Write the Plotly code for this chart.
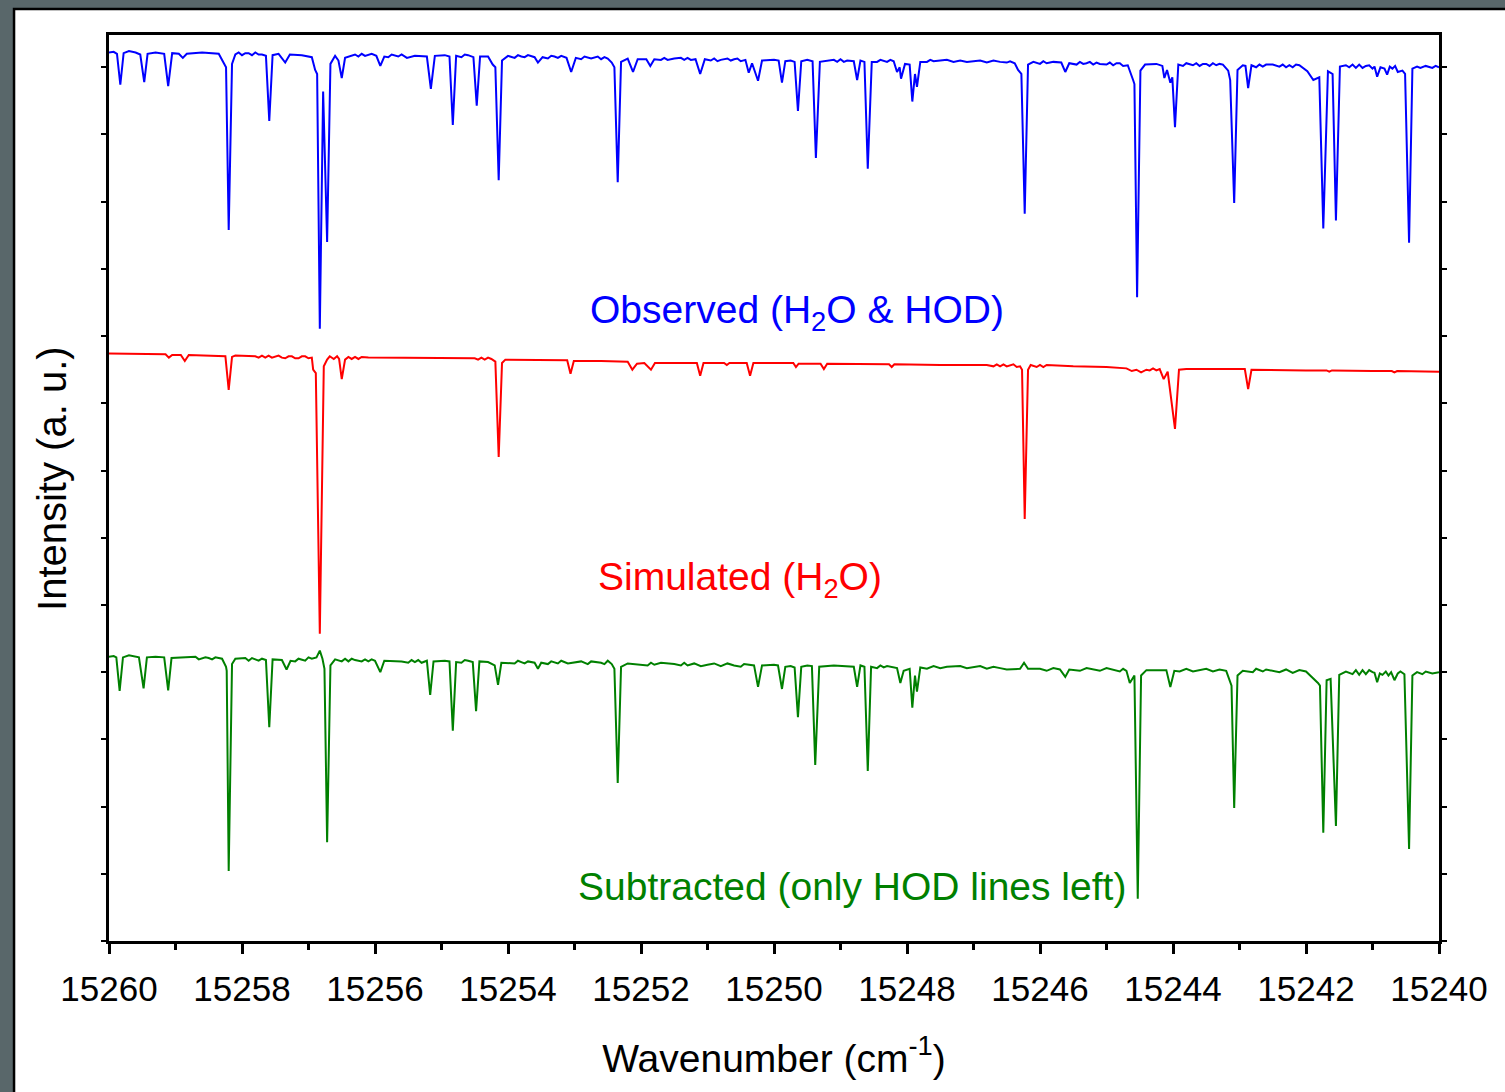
import plotly.graph_objects as go

# Observed spectrum (H2O + HOD), wavenumber in cm^-1 and intensity in a.u.
obs_wn = [
    15260.00, 15259.93, 15259.88, 15259.83, 15259.78, 15259.70, 15259.60, 15259.53, 15259.47, 15259.42,
    15259.30, 15259.17, 15259.11, 15259.05, 15258.95, 15258.89, 15258.83, 15258.60, 15258.35, 15258.27,
    15258.24, 15258.20, 15258.15, 15258.10, 15257.90, 15257.70, 15257.64, 15257.59, 15257.54, 15257.45,
    15257.35, 15257.28, 15257.10, 15256.95, 15256.90, 15256.87, 15256.83, 15256.78, 15256.72, 15256.67,
    15256.60, 15256.55, 15256.50, 15256.45, 15256.30, 15256.10, 15255.98, 15255.92, 15255.86, 15255.70,
    15255.52, 15255.40, 15255.22, 15255.16, 15255.10, 15254.95, 15254.88, 15254.83, 15254.78, 15254.60,
    15254.52, 15254.47, 15254.42, 15254.30, 15254.23, 15254.19, 15254.14, 15254.09, 15254.00, 15253.80,
    15253.60, 15253.55, 15253.48, 15253.30, 15253.12, 15253.05, 15252.98, 15252.70, 15252.50, 15252.44,
    15252.40, 15252.35, 15252.30, 15252.20, 15252.12, 15252.05, 15251.92, 15251.86, 15251.80, 15251.50,
    15251.18, 15251.11, 15251.04, 15250.80, 15250.60, 15250.43, 15250.38, 15250.33, 15250.24, 15250.18,
    15250.00, 15249.93, 15249.88, 15249.83, 15249.75, 15249.69, 15249.64, 15249.59, 15249.50, 15249.42,
    15249.37, 15249.31, 15249.10, 15248.90, 15248.80, 15248.75, 15248.70, 15248.64, 15248.59, 15248.53,
    15248.35, 15248.20, 15248.15, 15248.11, 15248.09, 15248.03, 15247.96, 15247.92, 15247.88, 15247.85,
    15247.80, 15247.50, 15247.00, 15246.60, 15246.38, 15246.33, 15246.28, 15246.23, 15246.18, 15246.10,
    15245.85, 15245.68, 15245.62, 15245.56, 15245.30, 15245.10, 15244.85, 15244.68, 15244.60, 15244.58,
    15244.54, 15244.49, 15244.42, 15244.25, 15244.16, 15244.13, 15244.09, 15244.04, 15244.01, 15243.97,
    15243.92, 15243.75, 15243.50, 15243.25, 15243.17, 15243.14, 15243.08, 15243.03, 15242.95, 15242.91,
    15242.87, 15242.82, 15242.50, 15242.10, 15241.98, 15241.89, 15241.80, 15241.74, 15241.67, 15241.60,
    15241.55, 15241.49, 15241.40, 15241.10, 15240.97, 15240.93, 15240.88, 15240.82, 15240.78, 15240.74,
    15240.66, 15240.62, 15240.55, 15240.51, 15240.45, 15240.40, 15240.33, 15240.00,
]
obs_int = [
    13.22, 13.23, 13.20, 12.74, 13.21, 13.24, 13.22, 13.19, 12.78, 13.20,
    13.22, 13.20, 12.72, 13.21, 13.20, 13.14, 13.20, 13.22, 13.20, 13.07,
    13.00, 10.58, 13.05, 13.19, 13.21, 13.19, 13.17, 12.20, 13.18, 13.20,
    13.07, 13.19, 13.18, 13.15, 12.96, 12.90, 9.11, 12.64, 10.40, 13.05,
    13.17, 13.10, 12.84, 13.14, 13.19, 13.18, 13.17, 13.02, 13.16, 13.18,
    13.14, 13.17, 13.16, 12.68, 13.17, 13.18, 13.16, 12.14, 13.17, 13.18,
    13.15, 12.43, 13.16, 13.16, 13.04, 13.00, 11.32, 13.10, 13.17, 13.16,
    13.15, 13.07, 13.15, 13.16, 13.14, 12.93, 13.14, 13.15, 13.13, 13.07,
    13.00, 11.29, 13.08, 13.13, 12.93, 13.12, 13.12, 13.02, 13.12, 13.13,
    13.12, 12.90, 13.12, 13.11, 13.12, 13.11, 12.92, 13.06, 12.80, 13.10,
    13.11, 13.10, 12.77, 13.09, 13.10, 13.08, 12.35, 13.09, 13.11, 13.09,
    11.65, 13.08, 13.11, 13.10, 13.09, 12.81, 13.10, 13.08, 11.49, 13.08,
    13.10, 13.09, 12.93, 13.00, 12.83, 13.05, 13.04, 12.49, 12.90, 12.71,
    13.08, 13.10, 13.09, 13.08, 13.06, 12.96, 12.90, 10.82, 13.04, 13.08,
    13.07, 13.07, 12.93, 13.06, 13.06, 13.05, 13.06, 13.03, 12.81, 12.75,
    9.58, 12.95, 13.04, 13.05, 13.02, 12.84, 12.96, 12.77, 12.85, 12.11,
    13.04, 13.05, 13.05, 13.04, 12.95, 12.81, 10.98, 12.96, 13.03, 13.02,
    12.69, 13.03, 13.04, 13.03, 12.94, 12.81, 12.85, 10.60, 12.94, 12.90,
    10.72, 13.01, 13.03, 13.02, 13.01, 12.86, 13.00, 12.98, 12.89, 13.01,
    13.02, 12.93, 12.95, 12.90, 10.39, 12.98, 13.01, 13.00,
]
# Baseline noise on the observed trace
obs_noise_wn = [
    15258.05, 15258.00, 15257.95, 15257.85, 15257.80, 15257.75,
    15256.25, 15256.20, 15256.15, 15256.05, 15255.80, 15255.75, 15255.65, 15255.60,
    15254.70, 15254.65,
    15253.90, 15253.85, 15253.75, 15253.70, 15253.40, 15253.35, 15253.25, 15253.20,
    15252.90, 15252.85, 15252.75, 15252.65, 15252.60, 15252.55,
    15251.70, 15251.65, 15251.60, 15251.40, 15251.35, 15251.30, 15251.25,
    15250.95, 15250.90, 15250.85, 15250.70, 15250.65, 15250.55, 15250.50,
    15249.05, 15249.00, 15248.95, 15248.45, 15248.40, 15248.30, 15248.25,
    15247.70, 15247.65, 15247.60, 15247.40, 15247.30, 15247.20, 15247.10, 15246.90, 15246.80,
    15246.70, 15246.50, 15246.45,
    15246.00, 15245.95, 15245.90, 15245.80,
    15245.45, 15245.40, 15245.35, 15245.25, 15245.20, 15245.15, 15245.00, 15244.95, 15244.90,
    15244.80, 15244.75,
    15243.85, 15243.80, 15243.70, 15243.65, 15243.60, 15243.55, 15243.45, 15243.40, 15243.35, 15243.30,
    15242.75, 15242.70, 15242.65, 15242.60, 15242.40, 15242.35, 15242.30, 15242.25, 15242.20, 15242.15,
    15241.35, 15241.30, 15241.25, 15241.20, 15241.15, 15241.05, 15241.00,
    15240.70, 15240.28, 15240.20, 15240.10, 15240.05,
]
obs_noise_int = [
    13.22, 13.18, 13.21, 13.18, 13.22, 13.19,
    13.16, 13.20, 13.17, 13.20, 13.15, 13.19, 13.16, 13.19,
    13.15, 13.19,
    13.14, 13.18, 13.15, 13.18, 13.13, 13.17, 13.14, 13.17,
    13.12, 13.16, 13.13, 13.16, 13.12, 13.15,
    13.11, 13.14, 13.11, 13.14, 13.11, 13.14, 13.11,
    13.10, 13.13, 13.09, 13.13, 13.10, 13.13, 13.09,
    13.08, 13.12, 13.08, 13.08, 13.11, 13.08, 13.11,
    13.08, 13.11, 13.09, 13.11, 13.08, 13.10, 13.08, 13.10, 13.07,
    13.10, 13.07, 13.09,
    13.05, 13.09, 13.06, 13.08,
    13.04, 13.08, 13.05, 13.08, 13.04, 13.07, 13.04, 13.07, 13.03,
    13.06, 13.02,
    13.02, 13.06, 13.03, 13.06, 13.02, 13.05, 13.02, 13.06, 13.03, 13.05,
    13.00, 13.04, 13.01, 13.04, 13.01, 13.04, 13.00, 13.03, 13.00, 13.04,
    13.00, 13.04, 12.99, 13.04, 12.99, 13.03, 12.98,
    12.98, 12.99, 13.02, 12.99, 13.02,
]

# Simulated H2O spectrum
sim_wn = [
    15260.00, 15259.50, 15259.15, 15259.10, 15259.05, 15258.92, 15258.86, 15258.80, 15258.30, 15258.25,
    15258.20, 15258.15, 15258.10, 15257.80, 15257.50, 15257.40, 15257.30, 15257.20, 15257.10, 15257.00,
    15256.95, 15256.93, 15256.89, 15256.83, 15256.77, 15256.72, 15256.68, 15256.62, 15256.57, 15256.54,
    15256.50, 15256.45, 15256.40, 15256.10, 15255.50, 15255.00, 15254.50, 15254.25, 15254.19, 15254.14,
    15254.09, 15254.04, 15253.70, 15253.11, 15253.06, 15253.01, 15252.60, 15252.20, 15252.13, 15252.06,
    15251.95, 15251.85, 15251.79, 15251.50, 15251.16, 15251.11, 15251.06, 15250.75, 15250.71, 15250.67,
    15250.41, 15250.36, 15250.31, 15250.00, 15249.71, 15249.67, 15249.63, 15249.30, 15249.25, 15249.20,
    15248.80, 15248.27, 15248.23, 15248.19, 15247.50, 15246.80, 15246.45, 15246.30, 15246.27, 15246.23,
    15246.18, 15246.14, 15245.50, 15245.00, 15244.70, 15244.62, 15244.55, 15244.48, 15244.40, 15244.20,
    15244.14, 15244.08, 15243.97, 15243.91, 15243.80, 15243.30, 15242.92, 15242.87, 15242.82, 15242.00,
    15241.69, 15241.65, 15241.61, 15241.00, 15240.71, 15240.67, 15240.63, 15240.00,
]
sim_int = [
    8.74, 8.73, 8.73, 8.68, 8.72, 8.72, 8.63, 8.72, 8.71, 8.70,
    8.20, 8.69, 8.71, 8.70, 8.70, 8.68, 8.70, 8.67, 8.70, 8.67,
    8.68, 8.50, 8.45, 4.57, 8.55, 8.65, 8.70, 8.66, 8.70, 8.66,
    8.36, 8.65, 8.69, 8.68, 8.68, 8.67, 8.67, 8.66, 8.62, 7.20,
    8.60, 8.65, 8.65, 8.64, 8.44, 8.63, 8.63, 8.62, 8.50, 8.59,
    8.60, 8.50, 8.60, 8.60, 8.60, 8.41, 8.60, 8.60, 8.57, 8.60,
    8.60, 8.41, 8.60, 8.60, 8.60, 8.54, 8.59, 8.59, 8.51, 8.59,
    8.59, 8.58, 8.54, 8.58, 8.57, 8.57, 8.56, 8.55, 8.50, 6.28,
    8.50, 8.57, 8.55, 8.54, 8.52, 8.48, 8.50, 8.46, 8.50, 8.51,
    8.36, 8.47, 7.62, 8.50, 8.51, 8.51, 8.51, 8.21, 8.50, 8.49,
    8.49, 8.47, 8.49, 8.48, 8.48, 8.46, 8.48, 8.47,
]
# Fine ripple on the simulated trace
sim_noise_wn = [
    15257.75, 15257.70, 15257.65, 15257.60, 15257.55, 15257.45, 15257.35, 15257.25, 15257.15, 15257.05,
    15256.35, 15256.30, 15256.25, 15256.20,
    15254.45, 15254.40, 15254.35, 15254.30,
    15246.70, 15246.65, 15246.60, 15246.55, 15246.50, 15246.40, 15246.35,
    15246.05, 15246.00, 15245.95, 15245.90,
    15244.35, 15244.30, 15244.25,
]
sim_noise_int = [
    8.68, 8.71, 8.68, 8.71, 8.68, 8.71, 8.67, 8.70, 8.67, 8.70,
    8.66, 8.69, 8.66, 8.69,
    8.65, 8.68, 8.65, 8.68,
    8.55, 8.58, 8.55, 8.58, 8.55, 8.58, 8.54,
    8.54, 8.57, 8.54, 8.57,
    8.49, 8.52, 8.49,
]

# Observed minus simulated: HOD lines remain
sub_wn = [
    15260.00, 15259.93, 15259.89, 15259.84, 15259.79, 15259.70, 15259.55, 15259.48, 15259.43, 15259.30,
    15259.17, 15259.11, 15259.06, 15258.80, 15258.50, 15258.30, 15258.24, 15258.23, 15258.20, 15258.15,
    15258.10, 15257.80, 15257.64, 15257.59, 15257.54, 15257.40, 15257.33, 15257.27, 15257.10, 15256.95,
    15256.88, 15256.83, 15256.79, 15256.76, 15256.72, 15256.67, 15256.60, 15256.30, 15256.00, 15255.92,
    15255.86, 15255.60, 15255.22, 15255.17, 15255.12, 15254.95, 15254.88, 15254.83, 15254.78, 15254.60,
    15254.53, 15254.48, 15254.43, 15254.30, 15254.20, 15254.15, 15254.10, 15253.80, 15253.60, 15253.55,
    15253.50, 15253.00, 15252.60, 15252.44, 15252.40, 15252.35, 15252.30, 15252.20, 15251.50, 15251.00,
    15250.60, 15250.30, 15250.24, 15250.18, 15250.00, 15249.94, 15249.88, 15249.83, 15249.75, 15249.69,
    15249.64, 15249.59, 15249.50, 15249.43, 15249.38, 15249.32, 15249.10, 15248.90, 15248.80, 15248.75,
    15248.70, 15248.64, 15248.59, 15248.54, 15248.30, 15248.15, 15248.10, 15248.05, 15247.96, 15247.92,
    15247.88, 15247.85, 15247.80, 15247.40, 15247.00, 15246.60, 15246.30, 15246.24, 15246.18, 15246.00,
    15245.70, 15245.62, 15245.56, 15245.20, 15244.90, 15244.70, 15244.65, 15244.58, 15244.53, 15244.48,
    15244.40, 15244.10, 15244.04, 15243.98, 15243.60, 15243.20, 15243.14, 15243.12, 15243.08, 15243.03,
    15242.95, 15242.50, 15242.00, 15241.82, 15241.79, 15241.74, 15241.69, 15241.63, 15241.55, 15241.50,
    15241.40, 15241.00, 15240.97, 15240.93, 15240.89, 15240.72, 15240.67, 15240.62, 15240.52, 15240.45,
    15240.40, 15240.33, 15240.00,
]
sub_int = [
    4.23, 4.24, 4.22, 3.72, 4.22, 4.25, 4.22, 3.76, 4.22, 4.23,
    4.22, 3.73, 4.21, 4.22, 4.21, 4.20, 4.08, 4.02, 1.04, 4.12,
    4.20, 4.19, 4.18, 3.18, 4.19, 4.18, 4.04, 4.17, 4.19, 4.20,
    4.22, 4.32, 4.20, 4.05, 1.47, 4.10, 4.19, 4.18, 4.17, 4.00,
    4.17, 4.16, 4.17, 3.66, 4.16, 4.17, 4.16, 3.13, 4.15, 4.17,
    4.15, 3.42, 4.16, 4.15, 4.10, 3.81, 4.14, 4.15, 4.14, 4.05,
    4.14, 4.15, 4.14, 4.12, 4.05, 2.35, 4.08, 4.13, 4.12, 4.11,
    4.10, 4.10, 3.78, 4.10, 4.11, 4.10, 3.75, 4.08, 4.09, 4.07,
    3.33, 4.08, 4.10, 4.09, 2.62, 4.08, 4.10, 4.09, 4.08, 3.78,
    4.10, 4.08, 2.53, 4.08, 4.09, 4.06, 3.84, 4.02, 4.05, 3.47,
    3.95, 3.71, 4.07, 4.08, 4.07, 4.06, 4.05, 4.14, 4.05, 4.05,
    4.04, 3.93, 4.04, 4.04, 4.03, 4.02, 3.84, 3.95, 0.63, 3.95,
    4.03, 4.03, 3.78, 4.02, 4.03, 4.02, 3.84, 3.80, 1.98, 3.95,
    4.02, 4.02, 4.01, 3.84, 3.80, 1.61, 3.88, 3.90, 1.71, 3.96,
    4.01, 4.00, 3.99, 3.85, 3.98, 4.00, 3.88, 3.98, 3.97, 1.37,
    3.95, 4.00, 4.00,
]
# Baseline noise on the subtracted trace
sub_noise_wn = [
    15258.70, 15258.65, 15258.55, 15258.45, 15258.40,
    15257.95, 15257.90, 15257.85, 15257.75, 15257.70,
    15257.20, 15257.15, 15257.05, 15257.00,
    15256.50, 15256.45, 15256.40, 15256.35, 15256.20, 15256.15, 15256.10, 15256.05,
    15255.50, 15255.45, 15255.40, 15255.35, 15255.30,
    15254.70, 15254.65,
    15253.90, 15253.85, 15253.75, 15253.70,
    15253.40, 15253.35, 15253.25, 15253.20, 15253.10, 15252.90, 15252.80, 15252.75, 15252.55, 15252.50,
    15251.90, 15251.85, 15251.80, 15251.70, 15251.40, 15251.35, 15251.30, 15251.20, 15251.10,
    15250.90, 15250.80, 15250.70, 15250.50, 15250.45,
    15248.45, 15248.40, 15248.35,
    15247.70, 15247.60, 15247.50, 15247.20, 15247.10, 15246.90, 15246.80, 15246.70, 15246.50,
    15245.90, 15245.80, 15245.40, 15245.30, 15245.10, 15245.00, 15244.80, 15244.75,
    15243.90, 15243.80, 15243.70, 15243.50, 15243.40, 15243.30,
    15242.80, 15242.75, 15242.65, 15242.60, 15242.40, 15242.30, 15242.20, 15242.10,
    15241.30, 15241.25, 15241.20, 15241.15, 15241.10, 15241.05,
    15240.85, 15240.80, 15240.76, 15240.58, 15240.25, 15240.20, 15240.10,
]
sub_noise_int = [
    4.23, 4.19, 4.22, 4.19, 4.22,
    4.21, 4.17, 4.21, 4.17, 4.20,
    4.16, 4.20, 4.17, 4.22,
    4.16, 4.20, 4.16, 4.20, 4.16, 4.19, 4.16, 4.19,
    4.14, 4.18, 4.15, 4.18, 4.14,
    4.14, 4.18,
    4.13, 4.17, 4.13, 4.16,
    4.12, 4.16, 4.13, 4.17, 4.13, 4.16, 4.12, 4.16, 4.12, 4.17,
    4.10, 4.14, 4.11, 4.14, 4.10, 4.14, 4.10, 4.13, 4.09,
    4.13, 4.09, 4.13, 4.08, 4.12,
    4.06, 4.10, 4.07,
    4.05, 4.09, 4.06, 4.09, 4.06, 4.09, 4.05, 4.08, 4.04,
    4.02, 4.06, 4.02, 4.06, 4.02, 4.06, 4.01, 4.05,
    4.01, 4.05, 4.01, 4.05, 4.01, 4.04,
    4.00, 4.05, 4.01, 4.04, 4.00, 4.04, 3.99, 4.03,
    3.97, 4.03, 3.96, 4.03, 3.97, 4.03,
    3.96, 4.01, 3.95, 4.01, 3.97, 4.01, 3.98,
]

# x-axis ticks (reversed wavenumber axis)
x_ticks = [15260, 15258, 15256, 15254, 15252, 15250, 15248, 15246, 15244, 15242, 15240]
x_range = [15260, 15240]
y_range = [0, 13.48]

FONT = "Arial, Liberation Sans, sans-serif"


def merged(wn, val, noise_wn, noise_val):
    """Combine line points and baseline noise points, ordered by wavenumber."""
    pts = sorted(zip(list(wn) + list(noise_wn), list(val) + list(noise_val)), reverse=True)
    return [p[0] for p in pts], [p[1] for p in pts]


series = [
    (obs_wn, obs_int, obs_noise_wn, obs_noise_int, "#0000ff"),
    (sim_wn, sim_int, sim_noise_wn, sim_noise_int, "#ff0000"),
    (sub_wn, sub_int, sub_noise_wn, sub_noise_int, "#008000"),
]

fig = go.Figure()
for wn, val, nwn, nval, color in series:
    x, y = merged(wn, val, nwn, nval)
    fig.add_trace(go.Scatter(x=x, y=y, mode="lines",
                             line=dict(color=color, width=2), showlegend=False))

# Series labels
fig.add_annotation(x=15249.65, y=9.35, text="Observed (H<sub>2</sub>O &amp; HOD)",
                   showarrow=False, font=dict(family=FONT, size=39, color="#0000ff"))
fig.add_annotation(x=15250.51, y=5.38, text="Simulated (H<sub>2</sub>O)",
                   showarrow=False, font=dict(family=FONT, size=39, color="#ff0000"))
fig.add_annotation(x=15248.83, y=0.81, text="Subtracted (only HOD lines left)",
                   showarrow=False, font=dict(family=FONT, size=39, color="#008000"))

# Y-axis title
fig.add_annotation(xref="paper", yref="paper", x=-0.0429, y=0.511,
                   xanchor="center", yanchor="middle",
                   text="Intensity (a. u.)", textangle=-90, showarrow=False,
                   font=dict(family=FONT, size=40, color="black"))

# White page on a slate frame
fig.add_shape(type="rect", xref="paper", yref="paper", layer="below",
              x0=-0.0714, x1=1.2, y0=-0.4, y1=1.0287,
              fillcolor="white", line=dict(color="black", width=2.5))

fig.update_xaxes(
    range=x_range, tickvals=x_ticks, ticktext=[str(t) for t in x_ticks],
    ticks="outside", ticklen=10, tickwidth=2.5, tickcolor="black", ticklabelstandoff=5,
    minor=dict(dtick=1, tick0=15240, ticks="outside", ticklen=6, tickwidth=2.5, tickcolor="black"),
    showline=True, linewidth=3, linecolor="black", mirror=True,
    showgrid=False, zeroline=False,
    tickfont=dict(family=FONT, size=35, color="black"),
    title=dict(text="Wavenumber (cm<sup>-1</sup>)", font=dict(family=FONT, size=39, color="black"),
               standoff=38),
)
fig.update_yaxes(
    range=y_range, tick0=0, dtick=1, showticklabels=False,
    ticks="outside", ticklen=5, tickwidth=2, tickcolor="black",
    showline=True, linewidth=3, linecolor="black", mirror="ticks",
    showgrid=False, zeroline=False,
)

fig.update_layout(
    width=1505, height=1092,
    margin=dict(l=109, r=66, t=35, b=151),
    paper_bgcolor="#59676a", plot_bgcolor="white",
    font=dict(family=FONT),
)

fig.write_html("out.html")
